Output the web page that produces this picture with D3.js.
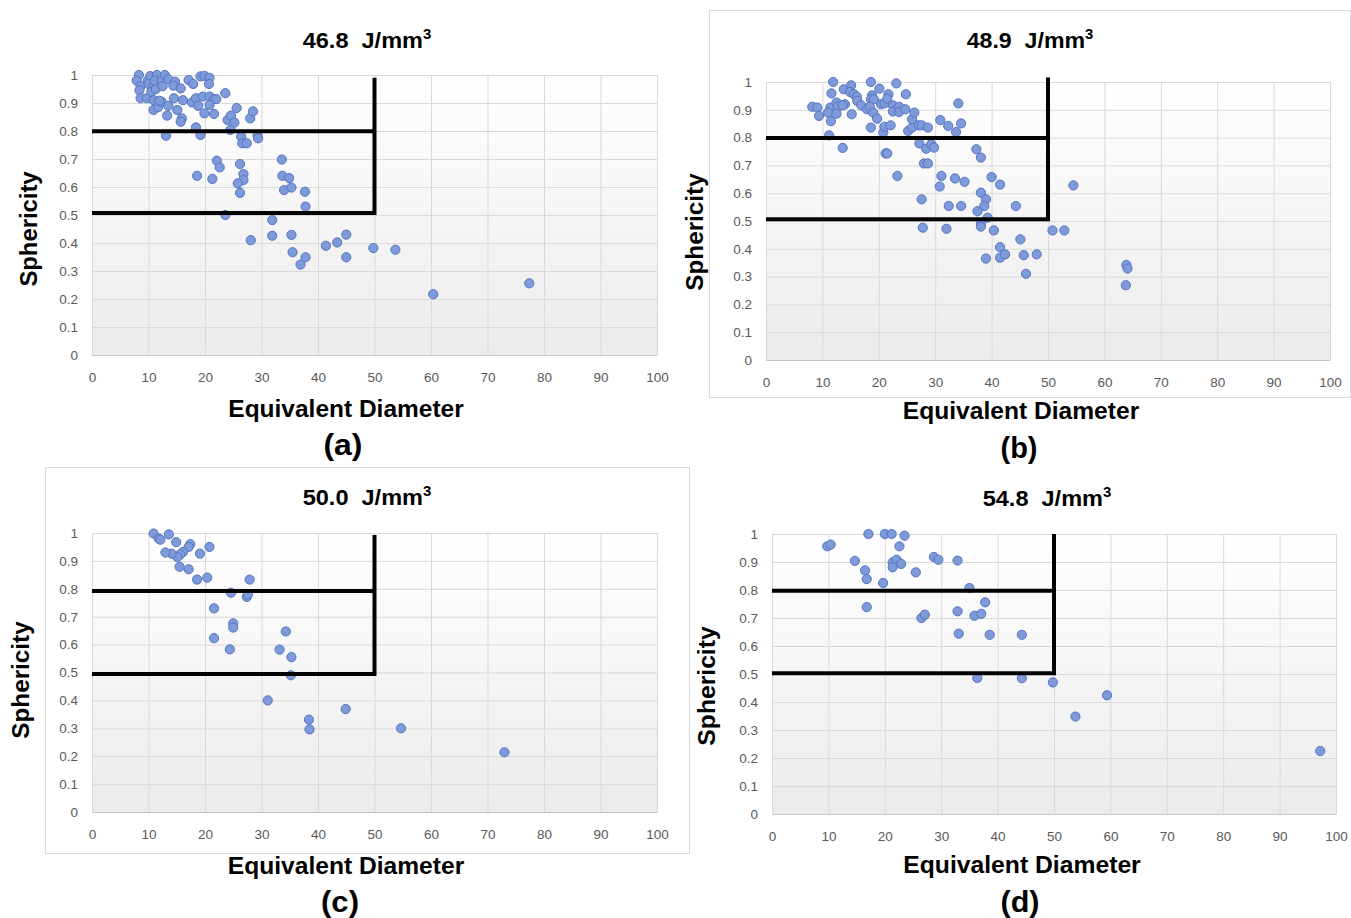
<!DOCTYPE html>
<html><head><meta charset="utf-8">
<script src="https://cdn.jsdelivr.net/npm/d3@7"></script>
<style>
body{margin:0;background:#fff;}
svg{display:block;}
.tick text{font-family:"Liberation Sans",Arial,sans-serif;font-size:13.5px;fill:#595959;}
.bold{font-family:"Liberation Sans",Arial,sans-serif;font-weight:bold;fill:#000;}
</style></head><body>
<svg id="chart" width="1351" height="918"></svg>
<script>
// ---------- DATA ----------
const panelLabels = ["(a)", "(b)", "(c)", "(d)"];
const energyLabels = ["46.8", "48.9", "50.0", "54.8"];
const energyUnit = "J/mm";
const xTitle = "Equivalent Diameter";
const yTitle = "Sphericity";
const xTicks = [0, 10, 20, 30, 40, 50, 60, 70, 80, 90, 100];
const yTicks = [0, 0.1, 0.2, 0.3, 0.4, 0.5, 0.6, 0.7, 0.8, 0.9, 1];
const yTickLabels = ["0", "0.1", "0.2", "0.3", "0.4", "0.5", "0.6", "0.7", "0.8", "0.9", "1"];
const upperThreshold = [0.799, 0.799, 0.792, 0.797];
const lowerThreshold = [0.507, 0.506, 0.495, 0.503];
const cutDiameter = [50, 50, 50, 50];
const cutTop = [0.99, 1.016, 0.993, 1.0];

const pointsA = [[8.3,1.0],[7.9,0.98],[8.6,0.96],[8.4,0.945],[8.6,0.917],[9.7,0.917],[9.9,0.98],[10.3,0.996],[10.0,0.968],[10.9,0.96],[10.5,0.94],[11.3,0.95],[11.5,1.0],[11.1,0.98],[12.3,0.98],[12.5,0.96],[12.9,1.0],[13.5,0.985],[10.9,0.91],[10.9,0.875],[11.7,0.885],[12.3,0.905],[13.5,0.89],[13.3,0.855],[14.5,0.917],[14.7,0.976],[14.4,0.962],[15.7,0.952],[15.1,0.875],[15.9,0.845],[15.7,0.833],[16.1,0.91],[17.1,0.982],[17.9,0.968],[17.7,0.902],[18.4,0.917],[18.8,0.89],[19.2,0.995],[19.9,0.997],[20.8,0.99],[20.7,0.968],[19.6,0.923],[20.8,0.923],[21.6,0.914],[22.0,0.914],[20.8,0.893],[19.9,0.863],[21.6,0.861],[23.6,0.935],[24.0,0.839],[24.6,0.855],[25.2,0.83],[25.6,0.882],[28.0,0.845],[28.5,0.87],[11.9,0.908],[13.1,0.783],[18.4,0.813],[19.2,0.786],[24.5,0.804],[26.4,0.78],[26.6,0.756],[27.4,0.756],[29.3,0.783],[29.4,0.774],[22.1,0.694],[22.6,0.67],[18.6,0.64],[21.3,0.629],[26.2,0.682],[26.8,0.646],[26.8,0.625],[25.8,0.613],[26.2,0.579],[23.6,0.5],[28.1,0.41],[31.9,0.482],[31.9,0.426],[33.6,0.698],[33.7,0.64],[34.9,0.632],[34.0,0.589],[35.3,0.598],[37.7,0.583],[37.8,0.53],[35.3,0.429],[35.5,0.367],[36.9,0.323],[37.8,0.349],[41.4,0.39],[43.4,0.402],[45.0,0.43],[45.0,0.349],[49.8,0.382],[53.7,0.376],[60.4,0.217],[77.4,0.256]];

const pointsB = [[8.2,0.911],[9.1,0.908],[9.4,0.878],[11.9,1.0],[11.6,0.959],[11.4,0.908],[11.0,0.89],[11.5,0.859],[11.2,0.808],[12.5,0.926],[12.7,0.911],[12.5,0.886],[13.6,0.763],[13.8,0.974],[14.0,0.92],[13.6,0.916],[15.1,0.988],[14.9,0.964],[15.6,0.956],[16.1,0.947],[15.2,0.884],[16.2,0.932],[16.9,0.916],[17.9,0.902],[18.6,1.0],[18.8,0.952],[18.6,0.938],[19.1,0.938],[18.4,0.911],[19.0,0.89],[18.6,0.836],[20.1,0.976],[19.7,0.868],[20.4,0.92],[21.0,0.923],[21.7,0.956],[21.5,0.94],[20.8,0.818],[21.0,0.839],[22.1,0.844],[21.2,0.743],[21.5,0.743],[22.5,0.916],[22.5,0.894],[23.1,0.995],[23.6,0.911],[23.6,0.892],[24.8,0.956],[24.7,0.902],[23.3,0.662],[25.2,0.824],[25.9,0.836],[25.9,0.866],[26.3,0.89],[27.1,0.844],[27.6,0.844],[28.7,0.836],[27.2,0.779],[28.4,0.76],[29.3,0.776],[29.8,0.764],[28.0,0.707],[28.7,0.707],[27.6,0.578],[27.8,0.476],[30.9,0.863],[32.3,0.842],[33.7,0.82],[34.1,0.923],[34.6,0.851],[31.1,0.662],[30.8,0.624],[33.5,0.653],[35.2,0.641],[32.4,0.554],[34.6,0.554],[32.0,0.472],[37.3,0.758],[38.1,0.728],[40.0,0.658],[41.5,0.631],[38.1,0.602],[39.0,0.578],[38.7,0.554],[37.5,0.535],[39.3,0.512],[38.1,0.492],[38.1,0.48],[40.4,0.466],[44.3,0.554],[39.0,0.365],[41.5,0.406],[41.5,0.368],[42.4,0.38],[45.1,0.434],[45.7,0.377],[46.1,0.31],[48.0,0.38],[50.8,0.466],[52.9,0.466],[54.5,0.628],[63.9,0.342],[64.1,0.329],[63.8,0.269]];

const pointsC = [[10.9,0.998],[11.8,0.98],[12.1,0.976],[13.6,0.995],[14.9,0.967],[17.4,0.96],[17.1,0.95],[16.1,0.932],[15.6,0.923],[15.1,0.914],[14.1,0.926],[13.0,0.93],[19.1,0.926],[20.8,0.95],[15.5,0.879],[17.1,0.87],[18.6,0.833],[20.4,0.84],[27.9,0.833],[24.6,0.786],[27.4,0.771],[27.6,0.78],[21.6,0.73],[25.0,0.676],[25.0,0.661],[21.6,0.623],[24.4,0.583],[34.3,0.647],[33.2,0.582],[35.3,0.555],[35.2,0.49],[31.1,0.4],[44.9,0.369],[38.4,0.331],[38.5,0.296],[54.7,0.3],[73.0,0.214]];

const pointsD = [[9.8,0.956],[10.4,0.962],[17.1,1.0],[20.0,1.0],[21.2,1.0],[23.5,0.994],[22.6,0.956],[14.7,0.904],[16.5,0.87],[16.8,0.839],[16.8,0.739],[19.7,0.825],[21.4,0.899],[22.1,0.908],[21.4,0.881],[22.9,0.893],[25.5,0.863],[28.7,0.918],[29.5,0.908],[32.9,0.905],[35.0,0.807],[37.8,0.756],[32.9,0.724],[35.9,0.708],[37.1,0.715],[26.5,0.7],[27.1,0.712],[33.1,0.644],[38.6,0.64],[44.3,0.64],[36.4,0.486],[44.3,0.485],[49.8,0.47],[59.4,0.424],[53.8,0.348],[97.2,0.225]];

const panelPoints = [pointsA, pointsB, pointsC, pointsD];

// ---------- LAYOUT ----------
const layout = [
  {x0:92, x1:657, y0:355, y1:75,  title:{cx:367,y:48,w:129},  xt:{cx:346,y:417,w:236},  lab:{cx:343,y:455,w:39}, yt:{x:37,cy:229,len:116}, box:null},
  {x0:766,x1:1330,y0:360, y1:82,  title:{cx:1030,y:48,w:127}, xt:{cx:1021,y:419,w:237}, lab:{cx:1019,y:458,w:37}, yt:{x:703,cy:232,len:118}, box:[709,10,641,387]},
  {x0:92, x1:657, y0:812, y1:533, title:{cx:367,y:505,w:129}, xt:{cx:346,y:874,w:237},  lab:{cx:340,y:912,w:38}, yt:{x:29,cy:680,len:118}, box:[45,467,644,386]},
  {x0:772,x1:1336,y0:814, y1:534, title:{cx:1047,y:506,w:129},xt:{cx:1022,y:873,w:238}, lab:{cx:1020,y:912,w:39}, yt:{x:715,cy:686,len:120}, box:null}
];

const svg = d3.select("#chart");
const defs = svg.append("defs");
const grad = defs.append("linearGradient").attr("id","plotBg").attr("x1",0).attr("y1",0).attr("x2",0).attr("y2",1);
grad.append("stop").attr("offset","0%").attr("stop-color","#ffffff");
grad.append("stop").attr("offset","100%").attr("stop-color","#ebebeb");

function fitH(sel, cx, y, target) {
  const w = sel.node().getBBox().width;
  sel.attr("transform", `translate(${cx},${y}) scale(${target / w},1)`);
}
function fitV(sel, x, cy, target) {
  const w = sel.node().getBBox().width;
  sel.attr("transform", `translate(${x},${cy}) rotate(-90) scale(${target / w},1)`);
}

layout.forEach((L, i) => {
  const g = svg.append("g");
  if (L.box) {
    g.append("rect").attr("x", L.box[0] + 0.5).attr("y", L.box[1] + 0.5)
      .attr("width", L.box[2]).attr("height", L.box[3])
      .attr("fill", "none").attr("stroke", "#d9d9d9").attr("stroke-width", 1);
  }
  const x = d3.scaleLinear().domain([0, 100]).range([L.x0, L.x1]);
  const y = d3.scaleLinear().domain([0, 1]).range([L.y0, L.y1]);

  g.append("rect").attr("x", L.x0).attr("y", L.y1)
    .attr("width", L.x1 - L.x0).attr("height", L.y0 - L.y1).attr("fill", "url(#plotBg)");

  const gy = g.append("g").attr("transform", `translate(${L.x0},0)`)
    .call(d3.axisLeft(y).tickValues(yTicks).tickSize(-(L.x1 - L.x0)).tickPadding(14)
      .tickFormat((d, k) => yTickLabels[k]));
  gy.select(".domain").remove();
  gy.selectAll(".tick line").attr("stroke", "#d9d9d9");

  const gx = g.append("g").attr("transform", `translate(0,${L.y0})`)
    .call(d3.axisBottom(x).tickValues(xTicks).tickSize(-(L.y0 - L.y1)).tickSizeOuter(0).tickPadding(17)
      .tickFormat(d3.format("d")));
  gx.select(".domain").attr("stroke", "#c6c6c6");
  gx.selectAll(".tick line").attr("stroke", "#d9d9d9");

  g.append("g").selectAll("circle").data(panelPoints[i]).join("circle")
    .attr("cx", d => x(d[0])).attr("cy", d => y(d[1])).attr("r", 4.6)
    .attr("fill", "#7e9ad8").attr("stroke", "#5574c4").attr("stroke-width", 1);

  g.append("path")
    .attr("d", `M${x(0)},${y(upperThreshold[i])}H${x(cutDiameter[i])}`)
    .attr("stroke", "#000").attr("stroke-width", 4).attr("fill", "none");
  g.append("path")
    .attr("d", `M${x(0)},${y(lowerThreshold[i])}H${x(cutDiameter[i])}V${y(cutTop[i])}`)
    .attr("stroke", "#000").attr("stroke-width", 4).attr("fill", "none").attr("stroke-linejoin", "miter");

  // title
  const t = g.append("text").attr("class", "bold").attr("text-anchor", "middle").attr("font-size", 22);
  t.append("tspan").text(energyLabels[i] + "\u00a0 " + energyUnit);
  t.append("tspan").attr("font-size", 14).attr("dy", -9).text("3");
  fitH(t, L.title.cx, L.title.y, L.title.w);

  const xt = g.append("text").attr("class", "bold").attr("text-anchor", "middle").attr("font-size", 24.5).text(xTitle);
  fitH(xt, L.xt.cx, L.xt.y, L.xt.w);

  const lab = g.append("text").attr("class", "bold").attr("text-anchor", "middle").attr("font-size", 30).text(panelLabels[i]);
  fitH(lab, L.lab.cx, L.lab.y, L.lab.w);

  const yt = g.append("text").attr("class", "bold").attr("text-anchor", "middle").attr("font-size", 24).text(yTitle);
  fitV(yt, L.yt.x, L.yt.cy, L.yt.len);
});
</script>
</body></html>
